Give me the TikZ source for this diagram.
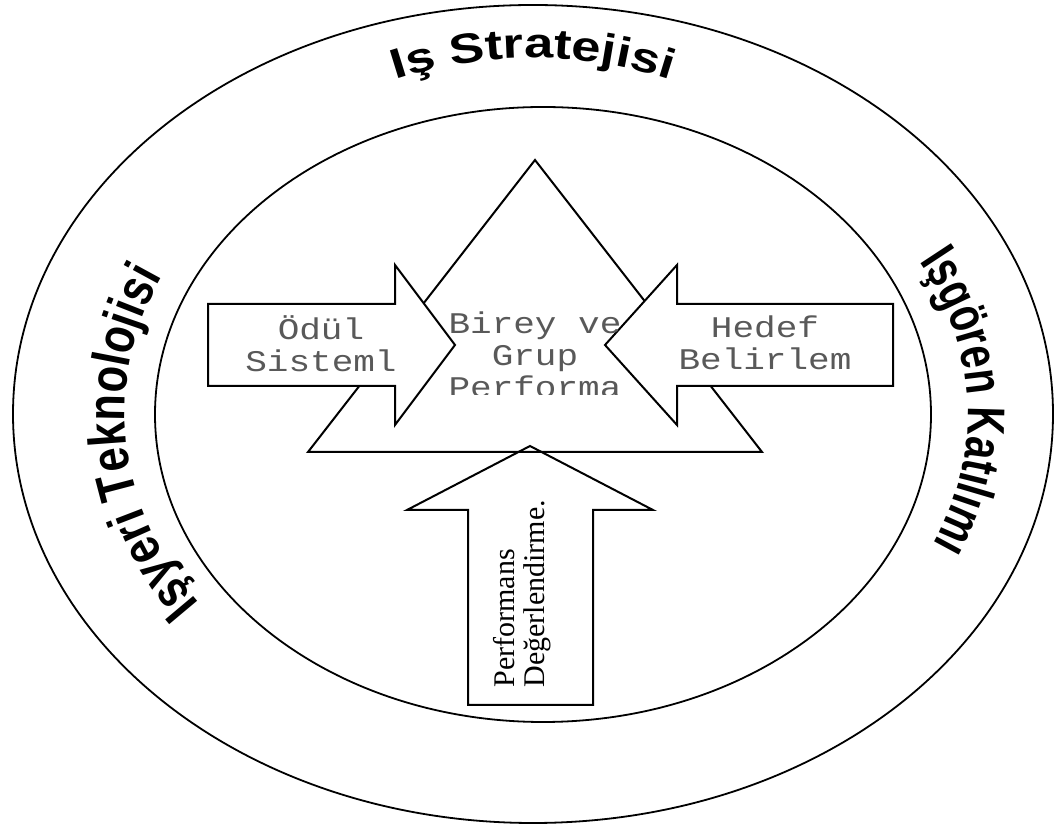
\documentclass[tikz,border=0pt]{standalone}
\usepackage{fontspec}
\setmainfont{Liberation Serif}
\newfontfamily\kutufont[FakeStretch=1.2]{Liberation Mono}
\newfontfamily\ustfont[FakeStretch=1.25]{Liberation Sans Bold}
\newfontfamily\solfont[FakeStretch=0.82]{Liberation Sans Bold}
\newfontfamily\sagfont[FakeStretch=0.75]{Liberation Sans Bold}
\usetikzlibrary{decorations.text}

\begin{document}
\begin{tikzpicture}[x=0.5pt,y=0.5pt,
    cizgi/.style={draw=black,line width=1pt,line join=miter},
    halka/.style={draw=black,line width=0.9pt},
    kutuyazi/.style={font=\kutufont\fontsize{15pt}{16pt}\selectfont,text=black!65,align=center,inner sep=0pt}]
  \useasboundingbox (0,0) rectangle (1056,830);
  % halkalar
  \draw[halka] (533,416) ellipse [x radius=520,y radius=409];
  \draw[halka] (543,415.5) ellipse [x radius=388,y radius=307.5];
  % alttaki ok
  \draw[cizgi,fill=white] (530,384) -- (653,320) -- (593,320) -- (593,125) -- (468,125) -- (468,320) -- (407,320) -- cycle;
  % ucgen
  \draw[cizgi] (535,670) -- (762,378) -- (308,378) -- cycle;
  % yan oklar
  \draw[cizgi,fill=white] (208,526) -- (395,526) -- (395,565) -- (455,485) -- (395,405) -- (395,444) -- (208,444) -- cycle;
  \draw[cizgi,fill=white] (893,526) -- (677,526) -- (677,565) -- (605,485) -- (677,405) -- (677,444) -- (893,444) -- cycle;
  % kutu yazilari
  \node[kutuyazi] (odul) at (321,486) {Ödül\\Sisteml};
  \node[kutuyazi] (hedef) at (765,487) {Hedef\\Belirlem};
  \begin{scope}
    \clip (420,435) rectangle (660,560);
    \node[kutuyazi] (birey) at (535,475) {Birey ve\\Grup\\Performa};
  \end{scope}
  \node[rotate=90,anchor=west,align=left,inner sep=0pt,
    font=\fontsize{15pt}{15pt}\selectfont] (degerlendirme) at (522,142) {Performans\\Değerlendirme.};
  % halka yazilari
  \path[shift={(533,416)},decorate,decoration={text along path,text align=center,
    text={|\ustfont\fontsize{21pt}{22pt}\selectfont|Iş Stratejisi}}]
    (125:400 and 356) arc[start angle=125,end angle=55,x radius=400,y radius=356];
  \path[shift={(533,416)},decorate,decoration={text along path,text align=center,
    text={|\solfont\fontsize{26.5pt}{27pt}\selectfont|Işyeri Teknolojisi}}]
    (225:408 and 330) arc[start angle=225,end angle=145,x radius=408,y radius=330];
  \path[shift={(533,416)},decorate,decoration={text along path,text align=center,
    text={|\sagfont\fontsize{26.5pt}{27pt}\selectfont|Işgören Katılımı}}]
    (42:435 and 330) arc[start angle=42,end angle=-38,x radius=435,y radius=330];
\end{tikzpicture}
\end{document}
